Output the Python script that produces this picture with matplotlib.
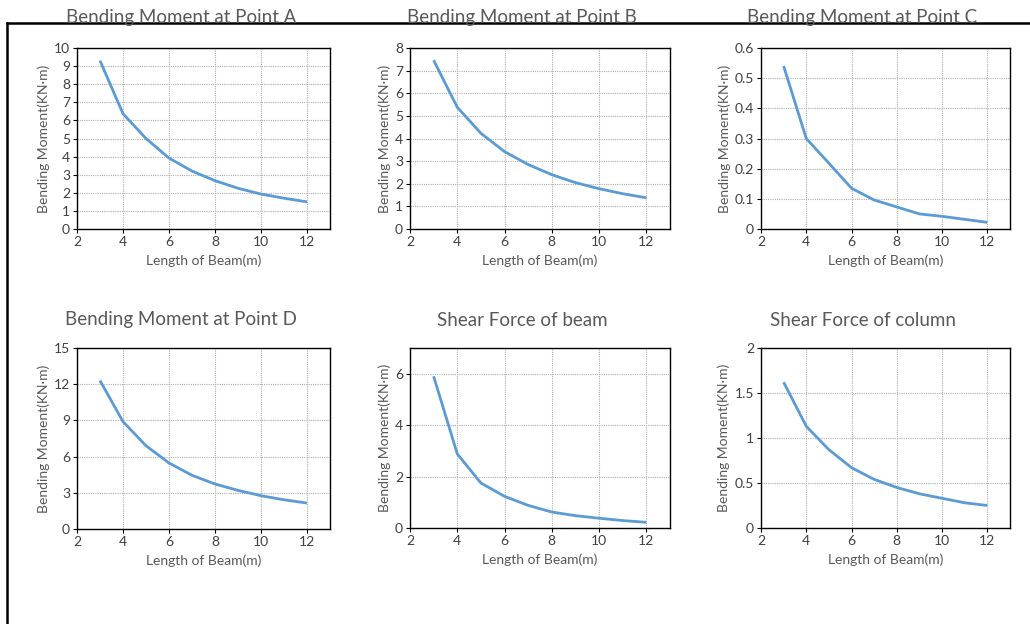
import matplotlib
matplotlib.use("Agg")
import matplotlib.pyplot as plt
from matplotlib.lines import Line2D

plt.rcParams['font.family'] = ['Lato', 'DejaVu Sans']

length_m = [3, 4, 5, 6, 7, 8, 9, 10, 11, 12]

moment_a = [9.3, 6.37, 5.0, 3.92, 3.2, 2.67, 2.25, 1.93, 1.7, 1.5]
moment_b = [7.46, 5.38, 4.23, 3.42, 2.85, 2.40, 2.05, 1.78, 1.56, 1.38]
moment_c = [0.54, 0.30, 0.218, 0.135, 0.096, 0.073, 0.05, 0.042, 0.032, 0.022]
moment_d = [12.3, 8.9, 6.9, 5.47, 4.45, 3.73, 3.2, 2.76, 2.42, 2.15]
shear_beam = [5.9, 2.88, 1.75, 1.23, 0.88, 0.62, 0.48, 0.38, 0.29, 0.22]
shear_col = [1.62, 1.13, 0.87, 0.67, 0.54, 0.45, 0.38, 0.33, 0.28, 0.25]

titles = ["Bending Moment at Point A", "Bending Moment at Point B",
          "Bending Moment at Point C", "Bending Moment at Point D",
          "Shear Force of beam", "Shear Force of column"]
series = [moment_a, moment_b, moment_c, moment_d, shear_beam, shear_col]
yticks = [list(range(0, 11)), list(range(0, 9)), [0, 0.1, 0.2, 0.3, 0.4, 0.5, 0.6],
          [0, 3, 6, 9, 12, 15], [0, 2, 4, 6], [0, 0.5, 1, 1.5, 2]]
yticklabels = [[str(v) for v in yticks[0]], [str(v) for v in yticks[1]],
               ["0", "0.1", "0.2", "0.3", "0.4", "0.5", "0.6"],
               ["0", "3", "6", "9", "12", "15"], ["0", "2", "4", "6"],
               ["0", "0.5", "1", "1.5", "2"]]
ylims = [(0, 10), (0, 8), (0, 0.6), (0, 15), (0, 7), (0, 2)]
xticks = [2, 4, 6, 8, 10, 12]
xlabel = "Length of Beam(m)"
ylabel = "Bending Moment(KN·m)"

W, H = 1030, 624
fig = plt.figure(figsize=(W / 100, H / 100), dpi=100)

# axes pixel boxes (left, top, right, bottom)
boxes = [(77, 48, 330, 229), (410, 48, 670, 229), (761, 48, 1010, 229),
         (77, 348, 330, 529), (410, 348, 670, 528), (761, 348, 1010, 528)]
title_pos = [(181, 17), (522, 17), (862, 17), (181, 320), (522, 320), (863, 320)]

line_color = "#5B9BD5"
for i, (l, t, r, b) in enumerate(boxes):
    ax = fig.add_axes([l / W, 1 - b / H, (r - l) / W, (b - t) / H])
    ax.plot(length_m, series[i], color=line_color, lw=2, solid_capstyle='butt')
    ax.set_xlim(2, 13)
    ax.set_ylim(*ylims[i])
    ax.set_xticks(xticks)
    ax.set_xticklabels([str(v) for v in xticks])
    ax.set_yticks(yticks[i])
    ax.set_yticklabels(yticklabels[i])
    ax.grid(True, color="#b0b0b0", linestyle=(0, (1, 1)), lw=0.8)
    ax.set_axisbelow(True)
    for s in ax.spines.values():
        s.set_color("#000000")
        s.set_linewidth(1.0)
    ax.tick_params(axis='both', labelsize=10, colors="#000000", labelcolor="#404040",
                   length=3, width=0.8, pad=2)
    ax.set_xlabel(xlabel, fontsize=10, color="#595959", labelpad=5)
    ax.set_ylabel(ylabel, fontsize=10, color="#595959", labelpad=3)
    fig.text(title_pos[i][0] / W, 1 - title_pos[i][1] / H, titles[i], fontsize=13.5,
             color="#595959", ha='center', va='center')

# outer frame
fig.add_artist(Line2D([7 / W, 7 / W], [1 - 23 / H, 0], color='black', lw=1.8,
                      transform=fig.transFigure))
fig.add_artist(Line2D([7 / W, 1], [1 - 23 / H, 1 - 23 / H], color='black', lw=1.8,
                      transform=fig.transFigure))

fig.savefig("out.png", dpi=100, facecolor="white")
